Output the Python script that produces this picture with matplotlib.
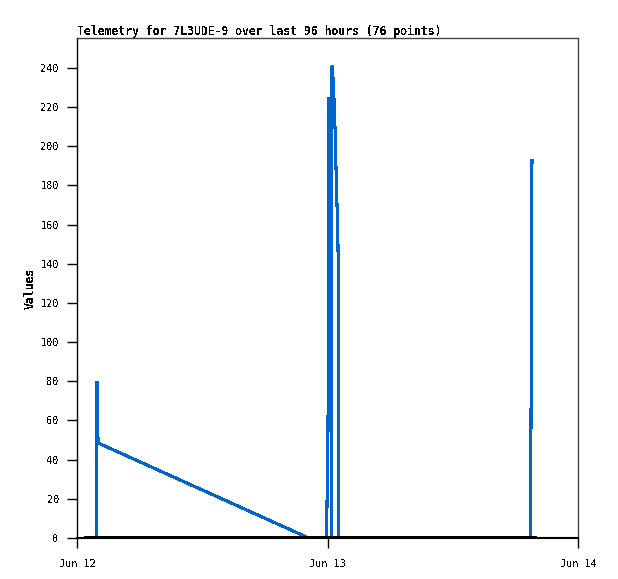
import matplotlib
matplotlib.use("Agg")
import matplotlib.pyplot as plt
from datetime import datetime, timedelta

# ---- data (hours after Jun 12 00:00) ----
base = datetime(2024, 6, 12)
blue_hours = [0.86, 1.88, 1.92, 1.97, 2.03, 22.20,
              23.90, 23.95, 24.00, 24.05, 24.10, 24.24, 24.31, 24.36, 24.43,
              24.56, 24.65, 24.75, 24.80, 24.86, 24.94, 25.00, 25.08, 25.09,
              43.45, 43.50, 43.59]
blue_values = [0, 0, 80, 56, 48.5, 0,
               0, 16, 40, 56, 225, 56, 224, 0, 241,
               233, 220, 205, 192, 179, 165, 151, 113, 0,
               0, 64.5, 192.5]
black_hours = [0.86, 43.88]
black_values = [0, 0]
x_tick_labels = ["Jun 12", "Jun 13", "Jun 14"]
y_ticks = list(range(0, 241, 20))
title = "Telemetry for 7L3UDE-9 over last 96 hours (76 points)"
ylabel = "Values"

blue_t = [base + timedelta(hours=h) for h in blue_hours]
black_t = [base + timedelta(hours=h) for h in black_hours]
x_ticks = [base + timedelta(days=i) for i in range(3)]

plt.rcParams['text.antialiased'] = False

fig = plt.figure(figsize=(6.18, 5.79), dpi=100)
ax = fig.add_axes([77/618, 1-538/579, 501/618, 500/579])

ax.plot(blue_t, blue_values, color='#0066CC', lw=1.5, antialiased=False,
        solid_joinstyle='bevel', zorder=2)
ax.plot(black_t, black_values, color='black', lw=1.6, antialiased=False, zorder=3)

ax.set_xlim(x_ticks[0], x_ticks[-1])
ax.set_ylim(0, 255.3)
ax.set_xticks(x_ticks)
ax.set_xticklabels(x_tick_labels)
ax.set_yticks(y_ticks)
ax.set_yticklabels([str(v) for v in y_ticks])

for lab in ax.get_xticklabels() + ax.get_yticklabels():
    lab.set_fontfamily('DejaVu Sans Mono')
    lab.set_fontsize(7.4)

ax.tick_params(axis='y', direction='out', length=7, width=1, pad=6, color='black')
ax.tick_params(axis='x', direction='out', length=7, width=1, pad=8, color='black')

for s in ['top', 'right']:
    ax.spines[s].set_color('#444444')
    ax.spines[s].set_linewidth(1)
ax.spines['left'].set_color('black')
ax.spines['left'].set_linewidth(1)
ax.spines['bottom'].set_color('black')
ax.spines['bottom'].set_linewidth(1.5)

ax.set_title(title, loc='left', pad=2.5, fontfamily='DejaVu Sans Mono',
             fontweight='bold', fontsize=8.3)
ax.set_ylabel(ylabel, fontfamily='DejaVu Sans Mono', fontweight='bold',
              fontsize=8.3)
ax.yaxis.set_label_coords(-0.08, 0.5)

fig.savefig('out.png', dpi=100)
